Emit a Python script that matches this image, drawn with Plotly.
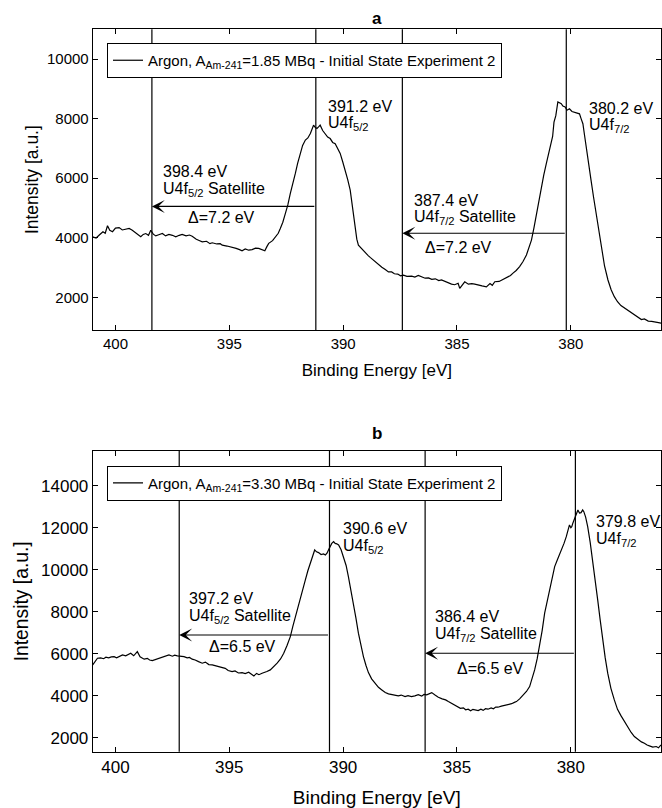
import plotly.graph_objects as go

# ---------------- data ----------------
energy_a = [401.00, 400.85, 400.71, 400.55, 400.45, 400.35, 400.25, 400.13, 400.00, 399.84,
            399.70, 399.55, 399.40, 399.26, 399.10, 398.89, 398.78, 398.67, 398.55, 398.45,
            398.34, 398.23, 398.10, 397.94, 397.80, 397.65, 397.50, 397.35, 397.20, 397.07,
            396.90, 396.75, 396.63, 396.45, 396.30, 396.19, 396.00, 395.85, 395.75, 395.55,
            395.40, 395.31, 395.10, 394.88, 394.70, 394.55, 394.44, 394.30, 394.15, 394.00,
            393.85, 393.71, 393.55, 393.44, 393.35, 393.27, 393.10, 392.98, 392.85, 392.76,
            392.65, 392.54, 392.43, 392.32, 392.20, 392.10, 392.00, 391.88, 391.78, 391.66,
            391.55, 391.44, 391.37, 391.30, 391.22, 391.15, 391.08, 391.01, 390.90, 390.79,
            390.68, 390.57, 390.46, 390.35, 390.24, 390.13, 390.02, 389.91, 389.80, 389.69,
            389.58, 389.47, 389.40, 389.33, 389.18, 389.03, 388.90, 388.80, 388.67, 388.55,
            388.42, 388.30, 388.15, 388.01, 387.87, 387.75, 387.60, 387.48, 387.35, 387.20,
            386.99, 386.85, 386.70, 386.55, 386.40, 386.25, 386.11, 385.95, 385.80, 385.68,
            385.50, 385.35, 385.24, 385.10, 384.95, 384.88, 384.78, 384.66, 384.50, 384.35,
            384.22, 384.05, 383.90, 383.71, 383.55, 383.45, 383.34, 383.15, 382.90, 382.75,
            382.65, 382.54, 382.40, 382.25, 382.10, 381.95, 381.85, 381.73, 381.62, 381.51,
            381.40, 381.30, 381.19, 381.08, 380.97, 380.86, 380.80, 380.74, 380.66, 380.57,
            380.50, 380.42, 380.35, 380.25, 380.17, 380.06, 379.95, 379.84, 379.73, 379.62,
            379.55, 379.47, 379.40, 379.33, 379.22, 379.11, 379.00, 378.89, 378.78, 378.67,
            378.52, 378.37, 378.23, 378.09, 377.95, 377.80, 377.65, 377.50, 377.35, 377.21,
            377.05, 376.90, 376.77, 376.60, 376.45, 376.33, 376.15, 376.04]
intensity_a = [4030, 3990, 4090, 4200, 4150, 4400, 4250, 4200, 4320, 4340,
               4260, 4290, 4310, 4250, 4150, 4030, 4110, 4140, 4080, 4250,
               4120, 4060, 4100, 4140, 4060, 4110, 4080, 4030, 4080, 4110,
               4060, 4090, 4050, 3950, 3900, 3860, 3880, 3800, 3830, 3790,
               3800, 3750, 3720, 3690, 3640, 3600, 3560, 3620, 3580, 3600,
               3650, 3640, 3600, 3560, 3700, 3810, 3900, 4030, 4150, 4310,
               4520, 4810, 5100, 5490, 5820, 6160, 6500, 6880, 7100, 7280,
               7350, 7500, 7650, 7780, 7700, 7670, 7720, 7780, 7600, 7500,
               7380, 7330, 7200, 7160, 6980, 6830, 6550, 6270, 5950, 5600,
               4900, 4250, 3950, 3750, 3620, 3520, 3400, 3330, 3240, 3180,
               3070, 3010, 2930, 2850, 2850, 2790, 2780, 2720, 2740, 2700,
               2710, 2680, 2730, 2690, 2640, 2650, 2600, 2620, 2560, 2580,
               2520, 2480, 2440, 2420, 2470, 2300, 2420, 2520, 2440, 2460,
               2440, 2400, 2380, 2350, 2460, 2400, 2520, 2530, 2640, 2700,
               2730, 2810, 2900, 3030, 3200, 3420, 3650, 3920, 4330, 4810,
               5280, 5700, 6100, 6480, 6850, 7150, 7400, 7880, 8100, 8560,
               8520, 8500, 8420, 8390, 8280, 8330, 8240, 8220, 8180, 8160,
               8000, 7830, 7450, 7040, 6470, 5920, 5350, 4800, 4200, 3670,
               3050, 2580, 2250, 2020, 1850, 1720, 1640, 1550, 1460, 1410,
               1330, 1250, 1270, 1200, 1190, 1180, 1150, 1130]

energy_b = [401.00, 400.90, 400.79, 400.65, 400.52, 400.42, 400.30, 400.18, 400.06, 399.95,
            399.82, 399.69, 399.55, 399.45, 399.33, 399.20, 399.10, 399.04, 398.92, 398.74,
            398.60, 398.50, 398.38, 398.25, 398.12, 398.02, 397.90, 397.78, 397.65, 397.50,
            397.40, 397.28, 397.15, 396.99, 396.85, 396.75, 396.63, 396.50, 396.35, 396.19,
            396.05, 395.90, 395.75, 395.60, 395.45, 395.31, 395.18, 395.05, 394.88, 394.75,
            394.60, 394.44, 394.30, 394.15, 394.02, 393.92, 393.80, 393.70, 393.56, 393.45,
            393.35, 393.20, 393.05, 392.90, 392.75, 392.61, 392.46, 392.32, 392.21, 392.10,
            391.99, 391.88, 391.77, 391.66, 391.55, 391.45, 391.35, 391.25, 391.17, 391.08,
            390.97, 390.86, 390.78, 390.71, 390.64, 390.57, 390.50, 390.42, 390.35, 390.28,
            390.20, 390.09, 389.98, 389.87, 389.77, 389.66, 389.55, 389.44, 389.33, 389.22,
            389.11, 389.00, 388.89, 388.75, 388.60, 388.45, 388.30, 388.15, 388.01, 387.87,
            387.72, 387.58, 387.45, 387.28, 387.15, 387.00, 386.85, 386.70, 386.55, 386.45,
            386.33, 386.22, 386.11, 385.95, 385.82, 385.65, 385.50, 385.38, 385.20, 385.05,
            384.95, 384.85, 384.72, 384.62, 384.51, 384.40, 384.30, 384.18, 384.07, 383.95,
            383.85, 383.75, 383.64, 383.50, 383.40, 383.30, 383.20, 383.05, 382.90, 382.76,
            382.60, 382.48, 382.39, 382.25, 382.10, 381.95, 381.81, 381.70, 381.59, 381.48,
            381.37, 381.26, 381.15, 381.04, 380.93, 380.82, 380.71, 380.60, 380.50, 380.42,
            380.30, 380.20, 380.12, 380.06, 380.00, 379.96, 379.90, 379.84, 379.76, 379.69,
            379.62, 379.55, 379.48, 379.43, 379.35, 379.26, 379.15, 379.04, 378.93, 378.82,
            378.71, 378.60, 378.49, 378.38, 378.24, 378.09, 377.95, 377.80, 377.65, 377.50,
            377.35, 377.21, 377.05, 376.90, 376.77, 376.65, 376.52, 376.40, 376.25, 376.15,
            376.04]
intensity_b = [5465, 5650, 5784, 5800, 5760, 5832, 5800, 5850, 5860, 5800,
               5880, 5941, 5900, 5960, 6022, 5900, 6050, 6098, 5850, 5737,
               5780, 5700, 5670, 5720, 5760, 5784, 5860, 5900, 5941, 5880,
               5930, 5893, 5880, 5860, 5800, 5820, 5737, 5700, 5620, 5546,
               5600, 5480, 5465, 5420, 5360, 5308, 5300, 5200, 5146, 5180,
               5080, 5099, 5050, 5120, 5000, 4942, 5060, 5000, 5070, 5100,
               5150, 5227, 5380, 5546, 5750, 6022, 6400, 6812, 7300, 7764,
               8250, 8716, 9100, 9511, 9950, 10306, 10650, 10939, 10850, 10811,
               10720, 10749, 10700, 10782, 10950, 11096, 11250, 11334, 11250, 11230,
               11177, 10950, 10620, 10200, 9668, 9050, 8402, 7700, 6974, 6350,
               5860, 5450, 5100, 4800, 4594, 4400, 4275, 4150, 4085, 4060,
               4037, 3990, 4030, 3956, 4000, 3960, 3990, 4050, 3980, 4060,
               4037, 4100, 4147, 4020, 3928, 3850, 3800, 3719, 3600, 3520,
               3451, 3400, 3420, 3330, 3356, 3280, 3350, 3300, 3290, 3360,
               3300, 3380, 3356, 3420, 3380, 3460, 3451, 3500, 3530, 3561,
               3620, 3680, 3719, 3850, 4037, 4200, 4432, 4800, 5227, 5750,
               6336, 7100, 7926, 8500, 9035, 9600, 10144, 10450, 10700, 10939,
               11250, 11572, 11900, 12129, 12000, 12049, 12250, 12448, 12650, 12843,
               12700, 12715, 12850, 12763, 12500, 12049, 11300, 10463, 9500, 8559,
               7600, 6655, 5800, 5070, 4350, 3799, 3350, 3050, 2766, 2500,
               2250, 2052, 1900, 1800, 1738, 1650, 1600, 1548, 1580, 1520,
               1657]

peaks_a = [391.2, 380.2]
satellites_a = [398.4, 387.4]
arrow_level_a = [5050, 4150]
delta_a = [7.2, 7.2]
peaks_b = [390.6, 379.8]
satellites_b = [397.2, 386.4]
arrow_level_b = [6890, 6020]
delta_b = [6.5, 6.5]
orbitals = ["5/2", "7/2"]

legend_a = "Argon, A<sub>Am-241</sub>=1.85 MBq - Initial State Experiment 2"
legend_b = "Argon, A<sub>Am-241</sub>=3.30 MBq - Initial State Experiment 2"
panel_titles = ["a", "b"]
x_ticks = [400, 395, 390, 385, 380]
y_ticks_a = [2000, 4000, 6000, 8000, 10000]
y_ticks_b = [2000, 4000, 6000, 8000, 10000, 12000, 14000]

# ---------------- layout helpers ----------------
W, H = 662, 808
FONT = "Liberation Sans, Arial, Helvetica, sans-serif"
X_RANGE = [401.0, 376.04]
Y_RANGE_A = [900, 11000]
Y_RANGE_B = [1333, 15650]


def px_x(p):
    return p / W


def px_y(p):
    return 1 - p / H


fig = go.Figure()
fig.add_trace(go.Scatter(x=energy_a, y=intensity_a, mode="lines", name=legend_a,
                         line=dict(color="black", width=1.2), xaxis="x", yaxis="y",
                         legend="legend"))
fig.add_trace(go.Scatter(x=energy_b, y=intensity_b, mode="lines", name=legend_b,
                         line=dict(color="black", width=1.2), xaxis="x2", yaxis="y2",
                         legend="legend2"))

axis_common = dict(showline=True, linecolor="black", linewidth=1, mirror="allticks",
                   ticks="inside", ticklen=5, tickwidth=1, tickcolor="black",
                   showgrid=False, zeroline=False)

x_dom = [px_x(92.7), px_x(661)]
fig.update_layout(
    xaxis=dict(domain=x_dom, range=X_RANGE, tickvals=x_ticks,
               ticktext=[str(v) for v in x_ticks], anchor="y",
               tickfont=dict(size=15),
               title=dict(text="Binding Energy [eV]", font=dict(size=17), standoff=13),
               **axis_common),
    yaxis=dict(domain=[px_y(330), px_y(29.3)], range=Y_RANGE_A, tickvals=y_ticks_a,
               ticktext=[str(v) for v in y_ticks_a],
               anchor="x", tickfont=dict(size=15),
               title=dict(text="Intensity [a.u.]", font=dict(size=17.5), standoff=3),
               **axis_common),
    xaxis2=dict(domain=x_dom, range=X_RANGE, tickvals=x_ticks,
                ticktext=[str(v) for v in x_ticks], anchor="y2",
                tickfont=dict(size=17),
                title=dict(text="Binding Energy [eV]", font=dict(size=19), standoff=14),
                **axis_common),
    yaxis2=dict(domain=[px_y(751.7), px_y(451)], range=Y_RANGE_B, tickvals=y_ticks_b,
                ticktext=[str(v) for v in y_ticks_b],
                anchor="x2", tickfont=dict(size=17),
                title=dict(text="Intensity [a.u.]", font=dict(size=19.3), standoff=7),
                **axis_common),
)

legend_style = dict(xanchor="left", yanchor="top", bordercolor="black", borderwidth=1,
                    bgcolor="white", font=dict(size=15, color="black"))
fig.update_layout(
    legend=dict(x=px_x(107), y=px_y(43), **legend_style),
    legend2=dict(x=px_x(107), y=px_y(465.7), **legend_style),
)

shapes = []
annotations = []

# panel titles
for title, ypix in zip(panel_titles, [18, 433]):
    annotations.append(dict(text=f"<b>{title}</b>", x=(x_dom[0] + x_dom[1]) / 2, y=px_y(ypix),
                            xref="paper", yref="paper", showarrow=False,
                            xanchor="center", yanchor="middle", font=dict(size=17)))

# label positions (layout only): [peak-label, satellite-label, delta-label] in data coords
label_pos_a = {
    "peak": [(390.76, 8414, 7844), (379.30, 8347, 7777)],
    "sat": [(398.02, 6211, 5621), (386.96, 5262, 4682)],
    "delta": [(396.91, 4682), (386.50, 3663)],
}
label_pos_b = {
    "peak": [(390.09, 11971, 11095), (379.00, 12286, 11448)],
    "sat": [(396.85, 8638, 7762), (386.04, 7762, 6890)],
    "delta": [(395.97, 6333), (385.09, 5305)],
}

panels = [
    ("x", "y", peaks_a, satellites_a, arrow_level_a, delta_a, label_pos_a),
    ("x2", "y2", peaks_b, satellites_b, arrow_level_b, delta_b, label_pos_b),
]

txt_font = dict(size=16, color="black")
for xr, yr, peaks, sats, levels, deltas, pos in panels:
    for i in range(2):
        for xv in (peaks[i], sats[i]):
            shapes.append(dict(type="line", xref=xr, yref=f"{yr} domain", x0=xv, x1=xv,
                               y0=0, y1=1, line=dict(color="black", width=1.2)))
        # arrow from main peak to satellite
        annotations.append(dict(x=sats[i], y=levels[i], ax=peaks[i], ay=levels[i],
                                xref=xr, yref=yr, axref=xr, ayref=yr, text="",
                                showarrow=True, arrowhead=3, arrowsize=1.8,
                                arrowwidth=1.2, arrowcolor="black", standoff=0,
                                startstandoff=0))
        orb = orbitals[i]
        px_, y1, y2 = pos["peak"][i]
        annotations.append(dict(x=px_, y=y1, xref=xr, yref=yr, text=f"{peaks[i]:.1f} eV",
                                showarrow=False, xanchor="left", yanchor="middle",
                                font=txt_font))
        annotations.append(dict(x=px_, y=y2, xref=xr, yref=yr,
                                text=f"U4f<sub>{orb}</sub>",
                                showarrow=False, xanchor="left", yanchor="middle",
                                font=txt_font))
        sx, s1, s2 = pos["sat"][i]
        annotations.append(dict(x=sx, y=s1, xref=xr, yref=yr, text=f"{sats[i]:.1f} eV",
                                showarrow=False, xanchor="left", yanchor="middle",
                                font=txt_font))
        annotations.append(dict(x=sx, y=s2, xref=xr, yref=yr,
                                text=f"U4f<sub>{orb}</sub> Satellite",
                                showarrow=False, xanchor="left", yanchor="middle",
                                font=txt_font))
        dx, dy = pos["delta"][i]
        annotations.append(dict(x=dx, y=dy, xref=xr, yref=yr, text=f"Δ={deltas[i]:.1f} eV",
                                showarrow=False, xanchor="left", yanchor="middle",
                                font=txt_font))

fig.update_layout(
    width=W, height=H, margin=dict(l=0, r=0, t=0, b=0),
    paper_bgcolor="white", plot_bgcolor="white",
    font=dict(family=FONT, color="black"),
    showlegend=True, shapes=shapes, annotations=annotations,
)

fig.write_html("out.html", config={"displayModeBar": False},
               post_script="document.body.style.margin='0';")
